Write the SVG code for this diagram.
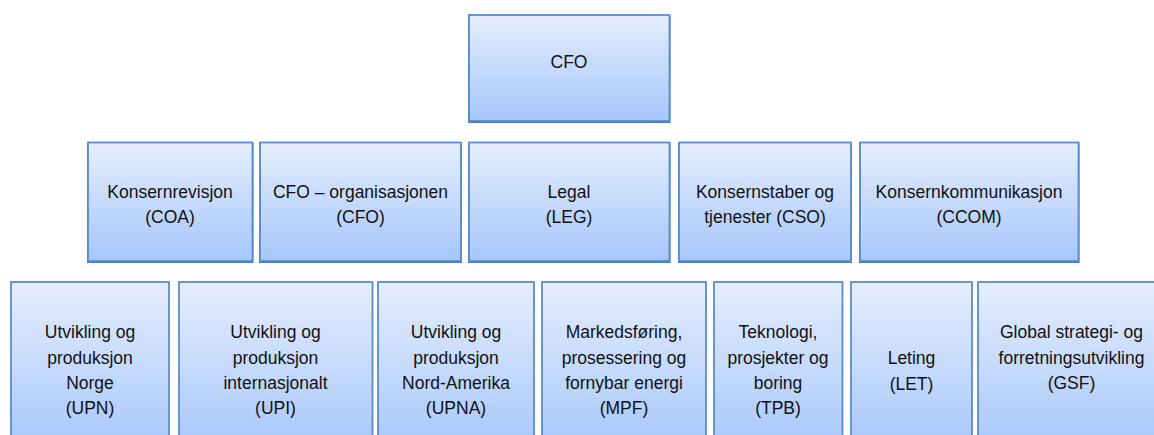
<svg xmlns="http://www.w3.org/2000/svg" width="1154" height="435" viewBox="0 0 1154 435">
<defs>
<linearGradient id="fill" x1="0" y1="0" x2="0" y2="1">
<stop offset="0" stop-color="#E5EEFE"/>
<stop offset="1" stop-color="#A6C6FB"/>
</linearGradient>
<style>
.box{fill:url(#fill);stroke:#5B8CC8;stroke-width:1.8}
.shadow{fill:#4A7AB6}
text{font-family:"Liberation Sans",Arial,sans-serif;font-size:17.5px;fill:#111;text-anchor:middle}
</style>
</defs>
<rect width="1154" height="435" fill="#ffffff"/>
<g id="connectors"/>
<g id="cfo-top">
<rect class="shadow" x="468" y="16" width="202.5" height="107"/>
<rect class="box" x="469" y="15" width="200.5" height="106"/>
<text x="569" y="68">CFO</text>
</g>
<g id="coa">
<rect class="shadow" x="87" y="143" width="166.5" height="120"/>
<rect class="box" x="88" y="142.5" width="164.5" height="118.5"/>
<text x="170" y="197.5">Konsernrevisjon</text>
<text x="170" y="222.5">(COA)</text>
</g>
<g id="cfo-org">
<rect class="shadow" x="259" y="143" width="203" height="120"/>
<rect class="box" x="260" y="142.5" width="201" height="118.5"/>
<text x="360.5" y="197.5">CFO – organisasjonen</text>
<text x="360.5" y="222.5">(CFO)</text>
</g>
<g id="leg">
<rect class="shadow" x="468" y="143" width="202.5" height="120"/>
<rect class="box" x="469" y="142.5" width="200.5" height="118.5"/>
<text x="569" y="197.5">Legal</text>
<text x="569" y="222.5">(LEG)</text>
</g>
<g id="cso">
<rect class="shadow" x="678" y="143" width="174" height="120"/>
<rect class="box" x="679" y="142.5" width="172" height="118.5"/>
<text x="765" y="197.5">Konsernstaber og</text>
<text x="765" y="222.5">tjenester (CSO)</text>
</g>
<g id="ccom">
<rect class="shadow" x="859" y="143" width="220.5" height="120"/>
<rect class="box" x="860" y="142.5" width="218.5" height="118.5"/>
<text x="969" y="197.5">Konsernkommunikasjon</text>
<text x="969" y="222.5">(CCOM)</text>
</g>
<g id="upn">
<rect class="box" x="11" y="282" width="158" height="170"/>
<text x="90" y="338">Utvikling og</text>
<text x="90" y="363.5">produksjon</text>
<text x="90" y="389">Norge</text>
<text x="90" y="414">(UPN)</text>
</g>
<g id="upi">
<rect class="box" x="179" y="282" width="193.5" height="170"/>
<text x="275.5" y="338">Utvikling og</text>
<text x="275.5" y="363.5">produksjon</text>
<text x="275.5" y="389">internasjonalt</text>
<text x="275.5" y="414">(UPI)</text>
</g>
<g id="upna">
<rect class="box" x="378" y="282" width="156" height="170"/>
<text x="456" y="338">Utvikling og</text>
<text x="456" y="363.5">produksjon</text>
<text x="456" y="389">Nord-Amerika</text>
<text x="456" y="414">(UPNA)</text>
</g>
<g id="mpf">
<rect class="box" x="542" y="282" width="164" height="170"/>
<text x="624" y="338">Markedsføring,</text>
<text x="624" y="363.5">prosessering og</text>
<text x="624" y="389">fornybar energi</text>
<text x="624" y="414">(MPF)</text>
</g>
<g id="tpb">
<rect class="box" x="714" y="282" width="128.5" height="170"/>
<text x="778" y="338">Teknologi,</text>
<text x="778" y="363.5">prosjekter og</text>
<text x="778" y="389">boring</text>
<text x="778" y="414">(TPB)</text>
</g>
<g id="let">
<rect class="box" x="851" y="282" width="121" height="170"/>
<text x="911.5" y="364">Leting</text>
<text x="911.5" y="390">(LET)</text>
</g>
<g id="gsf">
<rect class="box" x="978" y="282" width="188" height="170"/>
<text x="1071.5" y="338">Global strategi- og</text>
<text x="1071.5" y="363.5">forretningsutvikling</text>
<text x="1071.5" y="389">(GSF)</text>
</g>
</svg>
